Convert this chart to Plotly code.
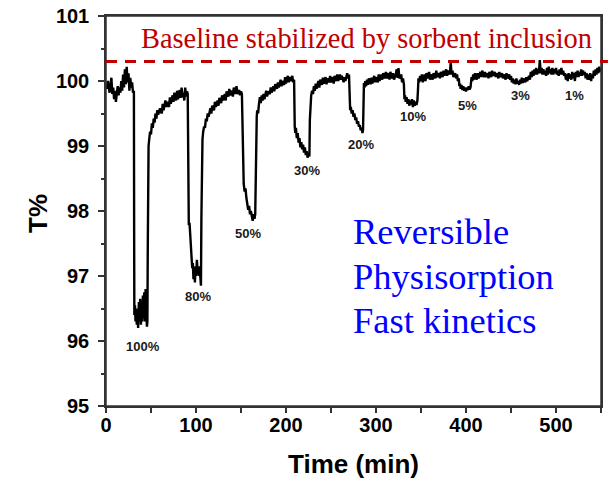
import plotly.graph_objects as go

# ---- data (time in min, transmittance in %) ----
seg_start = [(0,99.95),(1,99.88),(2,100.0),(3,99.9),(4,99.82),(5,99.95),(6,100.05),(7,99.8),(8,99.9),(9,99.72),(10,99.85),(11,99.68),(12,99.8),(13,99.92),(14,99.78),(15,99.9),(16,99.82),(17,100.0),(18,99.85),(19,100.1),(20,99.9),(21,100.18),(22,99.95),(23,100.22),(24,99.98),(25,100.12),(26,99.85),(27,100.05),(28,99.9),(29,99.98),(30,99.82),(31,99.85)]
dip_100 = [(31.3,97.5),(31.5,96.4),(32.2,96.55),(32.8,96.3),(33.5,96.5),(34.2,96.25),(35,96.45),(35.7,96.2),(36.5,96.6),(37.2,96.3),(38,96.65),(38.8,96.25),(39.5,96.5),(40.2,96.3),(41,96.7),(41.8,96.35),(42.5,96.75),(43.2,96.3),(44,96.8),(44.8,96.4),(45.5,96.22),(46,96.3)]
rise_100 = [(46.4,97.4),(46.8,98.5),(47.3,99.0),(48,99.1),(49,99.22),(50,99.18),(51,99.35),(52,99.28),(53,99.42),(54,99.36),(55,99.5),(56,99.42),(57,99.55),(58,99.48),(60,99.58),(62,99.5),(63,99.65),(64,99.55),(66,99.7),(67,99.6),(68,99.68),(70,99.6),(71,99.75),(72,99.65),(74,99.78),(75,99.68),(76,99.82),(78,99.7),(79,99.85),(80,99.72),(82,99.86),(83,99.74),(84,99.9),(85,99.75),(86,99.82),(87,99.7),(88,99.9),(89,99.76),(90,99.84),(90.8,99.8)]
dip_80 = [(91.2,97.9),(92,97.78),(92.8,97.82),(93.5,97.6),(94.2,97.5),(95,97.3),(95.8,97.12),(96.5,97.2),(97.2,96.95),(98,97.1),(98.8,96.9),(99.5,97.15),(100.2,97.0),(101,97.25),(101.8,97.05),(102.5,97.12),(103.2,97.0),(104,97.15),(104.8,96.92),(105.5,96.85)]
rise_80 = [(106,97.9),(106.6,98.8),(107.2,99.1),(108,99.22),(109,99.3),(110,99.28),(111,99.42),(112,99.38),(113,99.5),(114,99.45),(116,99.58),(117,99.5),(118,99.62),(120,99.55),(121,99.68),(122,99.6),(124,99.7),(125,99.62),(126,99.74),(128,99.66),(129,99.78),(130,99.7),(132,99.8),(133,99.7),(134,99.84),(136,99.76),(137,99.88),(138,99.78),(140,99.85),(141,99.76),(142,99.9),(144,99.8),(145,99.92),(146,99.8),(148,99.86),(149,99.78),(150,99.84),(151,99.8)]
dip_50 = [(151.6,99.2),(152.3,98.5),(153,98.42),(154,98.3),(155,98.35),(156,98.2),(157,98.12),(158,98.02),(159,98.08),(160,97.95),(161,98.0),(162,97.9),(163,97.85),(164,97.95),(165,97.88),(165.8,97.95)]
rise_50 = [(166.3,98.8),(166.8,99.3),(167.5,99.45),(168,99.55),(169,99.5),(170,99.65),(171,99.75),(172,99.66),(173,99.78),(174,99.7),(175,99.8),(176,99.72),(178,99.85),(179,99.76),(180,99.84),(182,99.8),(183,99.9),(184,99.82),(186,99.92),(187,99.84),(188,99.95),(190,99.88),(191,99.98),(192,99.9),(194,100.02),(195,99.92),(196,100.0),(198,99.94),(199,100.06),(200,99.96),(202,100.08),(203,99.98),(204,100.06),(206,100.0),(207,100.08),(208,99.98),(209,100.02)]
dip_30 = [(209.7,99.3),(210.3,99.2),(211,99.28),(212,99.12),(213,99.2),(214,99.05),(215,99.12),(216,98.98),(217,99.06),(218,98.95),(219,99.02),(220,98.9),(221,98.98),(222,98.86),(223,98.92),(224,98.82),(225,98.88),(226,98.84)]
rise_30 = [(226.5,99.4),(227,99.66),(228,99.78),(229,99.85),(230,99.8),(231,99.92),(232,99.85),(233,99.96),(234,99.88),(236,100.0),(237,99.9),(238,100.02),(240,99.94),(241,100.05),(242,99.96),(244,100.06),(245,99.95),(246,100.04),(248,99.98),(249,100.08),(250,99.98),(252,100.06),(253,99.96),(254,100.08),(256,100.0),(257,100.1),(258,100.0),(260,100.1),(261,100.02),(262,100.08),(264,99.98),(265,100.06),(266,100.0),(268,100.12),(269,100.04),(270,100.1)]
dip_20 = [(270.6,99.6),(271.3,99.55),(272,99.6),(273,99.5),(274,99.55),(275,99.45),(276,99.5),(277,99.4),(278,99.44),(279,99.34),(280,99.38),(281,99.3),(282,99.32),(283,99.24),(284,99.28),(285,99.2),(285.6,99.25)]
rise_20 = [(286.1,99.7),(286.6,99.97),(287.5,99.9),(288,100.0),(289,99.92),(290,100.02),(291,99.94),(292,100.04),(294,99.95),(295,100.05),(296,99.96),(298,100.08),(299,99.98),(300,100.06),(302,99.98),(303,100.1),(304,100.0),(306,100.1),(307,100.02),(308,100.12),(310,100.04),(311,100.14),(312,100.04),(314,100.12),(315,100.02),(316,100.14),(318,100.04),(319,100.12),(320,100.02),(322,100.1),(323,100.18),(324,100.05),(325,100.2),(326,100.04),(328,100.1),(329,99.98),(330,100.04),(331,99.95)]
dip_10 = [(331.6,99.72),(332.3,99.78),(333,99.68),(334,99.75),(335,99.65),(336,99.72),(337,99.62),(338,99.7),(339,99.64),(340,99.72),(341,99.6),(342,99.7),(343,99.62),(344,99.68),(345,99.63),(346,99.7),(346.6,99.85)]
rise_10 = [(347.2,100.04),(348,99.98),(349,100.08),(350,100.0),(351,100.1),(352,99.98),(354,100.1),(355,100.0),(356,100.12),(358,100.04),(359,100.14),(360,100.02),(362,100.1),(363,100.02),(364,100.12),(366,100.04),(367,100.16),(368,100.06),(370,100.12),(371,100.04),(372,100.14),(374,100.06),(375,100.16),(376,100.08),(378,100.18),(379,100.08),(380,100.16),(382,100.1),(383,100.28),(384,100.1),(385,100.16),(386,100.06),(388,100.12),(389,100.04),(390,100.1),(391,100.0),(392,100.04)]
dip_5 = [(392.6,99.92),(393.3,99.96),(394,99.88),(395,99.94),(396,99.86),(397,99.92),(398,99.85),(399,99.9),(400,99.84),(401,99.9),(402,99.86),(403,99.92),(404,99.87),(405,99.9),(405.6,99.98)]
rise_5 = [(406.2,100.06),(407,100.0),(408,100.1),(409,100.02),(410,100.12),(412,100.02),(413,100.12),(414,100.04),(416,100.14),(417,100.06),(418,100.16),(420,100.06),(421,100.14),(422,100.06),(424,100.12),(425,100.04),(426,100.14),(428,100.06),(429,100.16),(430,100.08),(432,100.14),(433,100.06),(434,100.12),(436,100.04),(437,100.14),(438,100.06),(440,100.12),(441,100.04),(442,100.1),(444,100.02),(445,100.12),(446,100.04),(448,100.1),(449,100.02),(450,100.08)]
dip_3 = [(451,99.98),(452,100.04),(453,99.96),(454,100.02),(455,99.95),(456,100.04),(457,99.96),(458,100.0),(459,99.94),(460,100.02),(461,99.96),(462,100.05),(463,99.97),(464,100.04),(466,99.98),(467,100.06),(468,100.0),(470,100.08),(471,100.02)]
rise_3 = [(472,100.14),(473,100.06),(474,100.16),(475,100.08),(476,100.18),(477,100.1),(478,100.2),(479,100.1),(480,100.18),(481,100.12),(482,100.32),(483,100.12),(484,100.2),(485,100.1),(486,100.18),(487,100.1),(488,100.16),(489,100.08),(490,100.2),(491,100.1),(492,100.22),(493,100.12),(494,100.18),(495,100.1),(496,100.2),(497,100.1),(498,100.18),(499,100.12),(500,100.2),(501,100.1),(502,100.16),(503,100.08),(504,100.18),(505,100.1),(506,100.2),(507,100.1),(508,100.16),(509,100.08),(510,100.12)]
dip_1 = [(511,100.02),(512,100.1),(513,100.0),(514,100.12),(515,100.04),(516,100.1),(517,100.02),(518,100.14),(519,100.04),(520,100.12),(521,100.0),(522,100.14),(523,100.06),(524,100.16),(525,100.06),(526,100.14),(527,100.08),(528,100.18),(529,100.08),(530,100.16),(531,100.1),(532,100.14),(533,100.04),(534,100.12),(535,100.02),(536,100.1),(537,100.02),(538,100.12),(539,100.0),(540,100.1),(541,100.04),(542,100.16),(543,100.08),(544,100.18),(545,100.1),(546,100.2),(547,100.12),(548,100.22),(549,100.14),(550,100.2)]

segments = [seg_start, dip_100, rise_100, dip_80, rise_80, dip_50, rise_50, dip_30, rise_30,
            dip_20, rise_20, dip_10, rise_10, dip_5, rise_5, dip_3, rise_3, dip_1]
time_min = [p[0] for s in segments for p in s]
t_percent = [p[1] for s in segments for p in s]

pct_labels = ["100%", "80%", "50%", "30%", "20%", "10%", "5%", "3%", "1%"]
pct_x = [41, 102, 158, 223, 283, 341, 402, 461, 520]
pct_y = [95.91, 96.68, 97.65, 98.62, 99.03, 99.46, 99.62, 99.77, 99.78]

baseline_level = 100.3
baseline_text = "Baseline stabilized by sorbent inclusion"
note_lines = ["Reversible", "Physisorption", "Fast kinetics"]
note_y = [97.69, 96.985, 96.31]

x_range = [0, 550]
y_range = [95, 101]

fig = go.Figure()
fig.add_trace(go.Scatter(x=time_min, y=t_percent, mode="lines",
                         line=dict(color="black", width=2.4), showlegend=False,
                         hoverinfo="skip"))

# frame
fig.add_shape(type="rect", xref="paper", yref="paper", x0=0, x1=1, y0=0, y1=1,
              line=dict(color="#333", width=1.5), layer="above")

# dashed baseline
yb = (baseline_level - y_range[0]) / (y_range[1] - y_range[0])
fig.add_shape(type="line", xref="paper", yref="paper", x0=0, x1=1.014, y0=yb, y1=yb,
              line=dict(color="#c00000", width=3, dash="11px,8px"))

fig.add_annotation(x=289, y=100.66, xref="x", yref="y", text=baseline_text,
                   showarrow=False, xanchor="center", yanchor="middle",
                   font=dict(family="Liberation Serif, Times New Roman, serif", size=28.4, color="#c00000"))

for line_txt, ly in zip(note_lines, note_y):
    fig.add_annotation(x=272, y=ly, xref="x", yref="y", text=line_txt,
                       showarrow=False, xanchor="left", yanchor="middle", align="left",
                       font=dict(family="Liberation Serif, Times New Roman, serif", size=36.5, color="#0000ff"))

for lab, xx, yy in zip(pct_labels, pct_x, pct_y):
    fig.add_annotation(x=xx, y=yy, xref="x", yref="y", text=lab, showarrow=False,
                       xanchor="center", yanchor="middle",
                       font=dict(family="Liberation Sans, Arial, sans-serif", size=13,
                                 color="#1a1a1a", weight="bold"))

axis_font = dict(family="Liberation Sans, Arial, sans-serif", size=20, color="black", weight="bold")
title_font = dict(family="Liberation Sans, Arial, sans-serif", size=26, color="black", weight="bold")

# axis titles
fig.add_annotation(x=0.5, y=-0.148, xref="paper", yref="paper", text="Time (min)",
                   showarrow=False, xanchor="center", yanchor="middle", font=title_font)
fig.add_annotation(x=-0.1374, y=0.495, xref="paper", yref="paper", text="T%", textangle=-90,
                   showarrow=False, xanchor="center", yanchor="middle", font=title_font)

fig.update_xaxes(range=x_range, dtick=100, tick0=0, ticks="outside", ticklen=5, tickwidth=1.5,
                 tickcolor="#333", showline=True, linecolor="#333", linewidth=1.5, mirror=True,
                 showgrid=False, zeroline=False, tickfont=axis_font, automargin=False,
                 ticklabelstandoff=-5,
                 minor=dict(ticks="outside", dtick=50, ticklen=5, tickwidth=1.5, tickcolor="#333"))
fig.update_yaxes(range=y_range, dtick=1, tick0=95, ticks="outside", ticklen=6, tickwidth=1.5,
                 tickcolor="#333", showline=True, linecolor="#333", linewidth=1.5, mirror=True,
                 showgrid=False, zeroline=False, tickfont=axis_font, automargin=False,
                 ticklabelstandoff=5,
                 minor=dict(ticks="outside", dtick=0.5, ticklen=3, tickwidth=1.5, tickcolor="#333"))

fig.update_layout(width=615, height=480, margin=dict(l=106, r=14, t=16, b=74),
                  plot_bgcolor="white", paper_bgcolor="white")

fig.write_html("out.html", config={"displayModeBar": False},
               post_script="document.body.style.margin='0px';")
